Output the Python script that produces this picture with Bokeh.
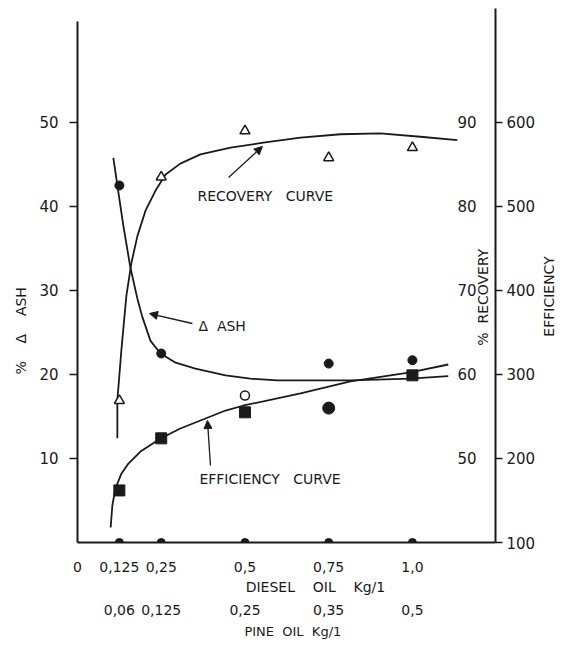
import math
from bokeh.plotting import figure
from bokeh.models import Range1d, LinearAxis, FixedTicker, Label, Arrow, NormalHead, ColumnDataSource
from bokeh.core.properties import value
from bokeh.embed import file_html
from bokeh.resources import INLINE

# ---------------- data ----------------
DIESEL = [0.125, 0.25, 0.5, 0.75, 1.0]
DIESEL_LABELS = ["0,125", "0,25", "0,5", "0,75", "1,0"]
PINE_LABELS = ["0,06", "0,125", "0,25", "0,35", "0,5"]

ASH_TICKS = [10, 20, 30, 40, 50]
REC_TICKS = [50, 60, 70, 80, 90]
EFF_TICKS = [100, 200, 300, 400, 500, 600]

# % ash (filled circles)
ASH_X = [0.125, 0.25, 0.75, 1.0]
ASH = [42.5, 22.5, 21.3, 21.7]
# open circle at 0.5
ASH_OPEN_X = [0.5]
ASH_OPEN = [17.5]

# % recovery (open triangles)
REC_X = [0.125, 0.25, 0.5, 0.75, 1.0]
REC = [56.9, 83.5, 89.0, 85.8, 87.0]

# efficiency (filled squares, round blob at 0.75)
EFF_X = [0.125, 0.25, 0.5, 1.0]
EFF = [162, 224, 255, 299]
EFF_ROUND_X = [0.75]
EFF_ROUND = [260]

# hand drawn fitted curves
ASH_CURVE_X = [0.107, 0.119, 0.137, 0.158, 0.179, 0.194, 0.218, 0.248, 0.293, 0.352,
               0.442, 0.516, 0.597, 0.815, 0.994, 1.107]
ASH_CURVE = [45.8, 42.5, 37.7, 32.7, 29.0, 26.8, 24.0, 22.5, 21.4, 20.7,
             19.9, 19.5, 19.3, 19.3, 19.5, 19.8]

REC_CURVE_X = [0.119, 0.119, 0.131, 0.146, 0.161, 0.179, 0.203, 0.233, 0.263, 0.307,
               0.367, 0.457, 0.555, 0.666, 0.785, 0.904, 1.024, 1.134]
REC_CURVE = [52.4, 56.9, 62.9, 69.4, 73.3, 76.5, 79.5, 81.9, 83.8, 85.1,
             86.2, 87.0, 87.6, 88.2, 88.6, 88.7, 88.3, 87.9]

EFF_CURVE_X = [0.099, 0.104, 0.113, 0.131, 0.152, 0.188, 0.248, 0.307, 0.382, 0.442,
               0.496, 0.666, 0.815, 0.994, 1.107]
EFF_CURVE = [117.9, 144.0, 164.0, 181.9, 194.0, 208.3, 223.8, 235.7, 247.6, 257.1,
             263.1, 277.4, 291.7, 302.4, 311.9]

# axis titles and the axis value at which each one is anchored
NB = "\u00a0"
ASH_TITLE, ASH_TITLE_AT = "%" + NB * 4 + "\u0394" + NB * 4 + "ASH", 30.4
EFF_TITLE, EFF_TITLE_AT = "EFFICIENCY", 345.0
REC_TITLE = "%" + NB * 2 + "RECOVERY"
DIESEL_TITLE, DIESEL_TITLE_AT = "DIESEL" + NB * 4 + "OIL" + NB * 4 + "Kg/1", 0.7104
PINE_TITLE, PINE_TITLE_AT = "PINE" + NB * 2 + "OIL" + NB * 2 + "Kg/1", 0.643

# ---------------- figure ----------------
X_END = 1.248
Y_END = 63.57
INK = "#1a1a1a"
FONT = "DejaVu Sans"

p = figure(width=568, height=644, output_backend="svg", toolbar_location=None,
           x_range=Range1d(0, X_END), y_range=Range1d(0, Y_END),
           x_axis_location=None, y_axis_location=None,
           min_border_left=77, min_border_right=73, min_border_top=8, min_border_bottom=102,
           background_fill_color="white", border_fill_color="white")
p.outline_line_color = None
p.xgrid.visible = False
p.ygrid.visible = False
p.extra_y_ranges = {"rec": Range1d(40, 40 + Y_END), "eff": Range1d(100, 100 + 10 * Y_END)}


def style_axis(ax, size="14px"):
    ax.axis_line_color = INK
    ax.axis_line_width = 2
    ax.major_tick_line_color = INK
    ax.major_tick_line_width = 1.5
    ax.major_tick_in = 0
    ax.minor_tick_in = 0
    ax.minor_tick_out = 0
    ax.major_label_text_font = FONT
    ax.major_label_text_font_size = size
    ax.major_label_text_color = INK


def title_axis(ax, standoff, size="14px", orientation=None):
    style_axis(ax, size)
    ax.axis_line_color = None
    ax.major_tick_line_color = None
    ax.major_tick_out = 0
    ax.major_label_standoff = standoff
    if orientation is not None:
        ax.major_label_orientation = orientation


# left: % ash
ay = LinearAxis(ticker=FixedTicker(ticks=ASH_TICKS), bounds=(0, 62))
style_axis(ay, "15px")
ay.major_tick_out = 8
ay.major_label_standoff = 11
p.add_layout(ay, "left")

ay_t = LinearAxis(ticker=FixedTicker(ticks=[ASH_TITLE_AT]), major_label_overrides={ASH_TITLE_AT: ASH_TITLE})
title_axis(ay_t, 15, "14px", math.pi / 2)
p.add_layout(ay_t, "left")

# right: efficiency
ae = LinearAxis(y_range_name="eff", ticker=FixedTicker(ticks=EFF_TICKS))
style_axis(ae, "15px")
ae.major_tick_out = 7
ae.major_label_standoff = 4
p.add_layout(ae, "right")

ae_t = LinearAxis(y_range_name="eff", ticker=FixedTicker(ticks=[EFF_TITLE_AT]),
                  major_label_overrides={EFF_TITLE_AT: EFF_TITLE})
title_axis(ae_t, 11, "14px", math.pi / 2)
p.add_layout(ae_t, "right")

# bottom: diesel oil
ax1 = LinearAxis(ticker=FixedTicker(ticks=[0] + DIESEL),
                 major_label_overrides={0: "0", **{d: s for d, s in zip(DIESEL, DIESEL_LABELS)}})
style_axis(ax1, "14px")
ax1.major_tick_out = 0
ax1.major_tick_line_color = None
ax1.major_label_standoff = 19
p.add_layout(ax1, "below")

ax1_t = LinearAxis(ticker=FixedTicker(ticks=[DIESEL_TITLE_AT]),
                   major_label_overrides={DIESEL_TITLE_AT: DIESEL_TITLE})
title_axis(ax1_t, 4, "14px")
p.add_layout(ax1_t, "below")

# bottom: pine oil
ax2 = LinearAxis(ticker=FixedTicker(ticks=DIESEL),
                 major_label_overrides={d: s for d, s in zip(DIESEL, PINE_LABELS)})
title_axis(ax2, 7, "14px")
p.add_layout(ax2, "below")

ax2_t = LinearAxis(ticker=FixedTicker(ticks=[PINE_TITLE_AT]),
                   major_label_overrides={PINE_TITLE_AT: PINE_TITLE})
title_axis(ax2_t, 6, "13px")
p.add_layout(ax2_t, "below")

# recovery tick labels, drawn on the inner side of the right axis
rec_src = ColumnDataSource(dict(x=[X_END] * len(REC_TICKS), y=REC_TICKS,
                                t=[str(v) for v in REC_TICKS]))
p.text(x="x", y="y", text="t", source=rec_src, y_range_name="rec",
       x_offset=-19, text_align="right", text_baseline="middle",
       text_font=value(FONT), text_font_size="15px", text_color=INK)

# ---------------- curves ----------------
p.line(ASH_CURVE_X, ASH_CURVE, line_color=INK, line_width=1.8)
p.line(REC_CURVE_X, REC_CURVE, line_color=INK, line_width=1.8, y_range_name="rec")
p.line(EFF_CURVE_X, EFF_CURVE, line_color=INK, line_width=1.8, y_range_name="eff")

# ---------------- points ----------------
p.scatter(DIESEL, [0] * len(DIESEL), marker="circle", size=8, fill_color=INK, line_color=INK)
p.scatter(ASH_X, ASH, marker="circle", size=9, fill_color=INK, line_color=INK)
p.scatter(ASH_OPEN_X, ASH_OPEN, marker="circle", size=9, fill_color="white", line_color=INK, line_width=1.5)
p.scatter(REC_X, REC, marker="triangle", size=10, fill_color="white", line_color=INK, line_width=1.5,
          y_range_name="rec")
p.scatter(EFF_X, EFF, marker="square", size=11, fill_color=INK, line_color=INK, y_range_name="eff")
p.scatter(EFF_ROUND_X, EFF_ROUND, marker="circle", size=12, fill_color=INK, line_color=INK, y_range_name="eff")

# ---------------- annotations ----------------


def lab(x, y, text, size="14px", angle=0.0, align="left"):
    p.add_layout(Label(x=x, y=y, text=text, angle=angle, text_align=align, text_baseline="middle",
                       text_font=FONT, text_font_size=size, text_color=INK))


lab(0.358, 41.3, "RECOVERY" + NB * 3 + "CURVE")
lab(0.361, 25.8, "\u0394" + NB * 2 + "ASH")
lab(0.364, 7.6, "EFFICIENCY" + NB * 3 + "CURVE")
lab(1.212, 29.2, REC_TITLE, size="14px", angle=math.pi / 2, align="center")

for xs, ys, xe, ye in [(0.451, 43.45, 0.552, 47.14),
                       (0.343, 26.07, 0.215, 27.26),
                       (0.397, 9.17, 0.388, 14.52)]:
    p.add_layout(Arrow(x_start=xs, y_start=ys, x_end=xe, y_end=ye, line_color=INK, line_width=1.3,
                       end=NormalHead(size=8, fill_color=INK, line_color=INK)))

open("out.html", "w").write(file_html(p, INLINE))
